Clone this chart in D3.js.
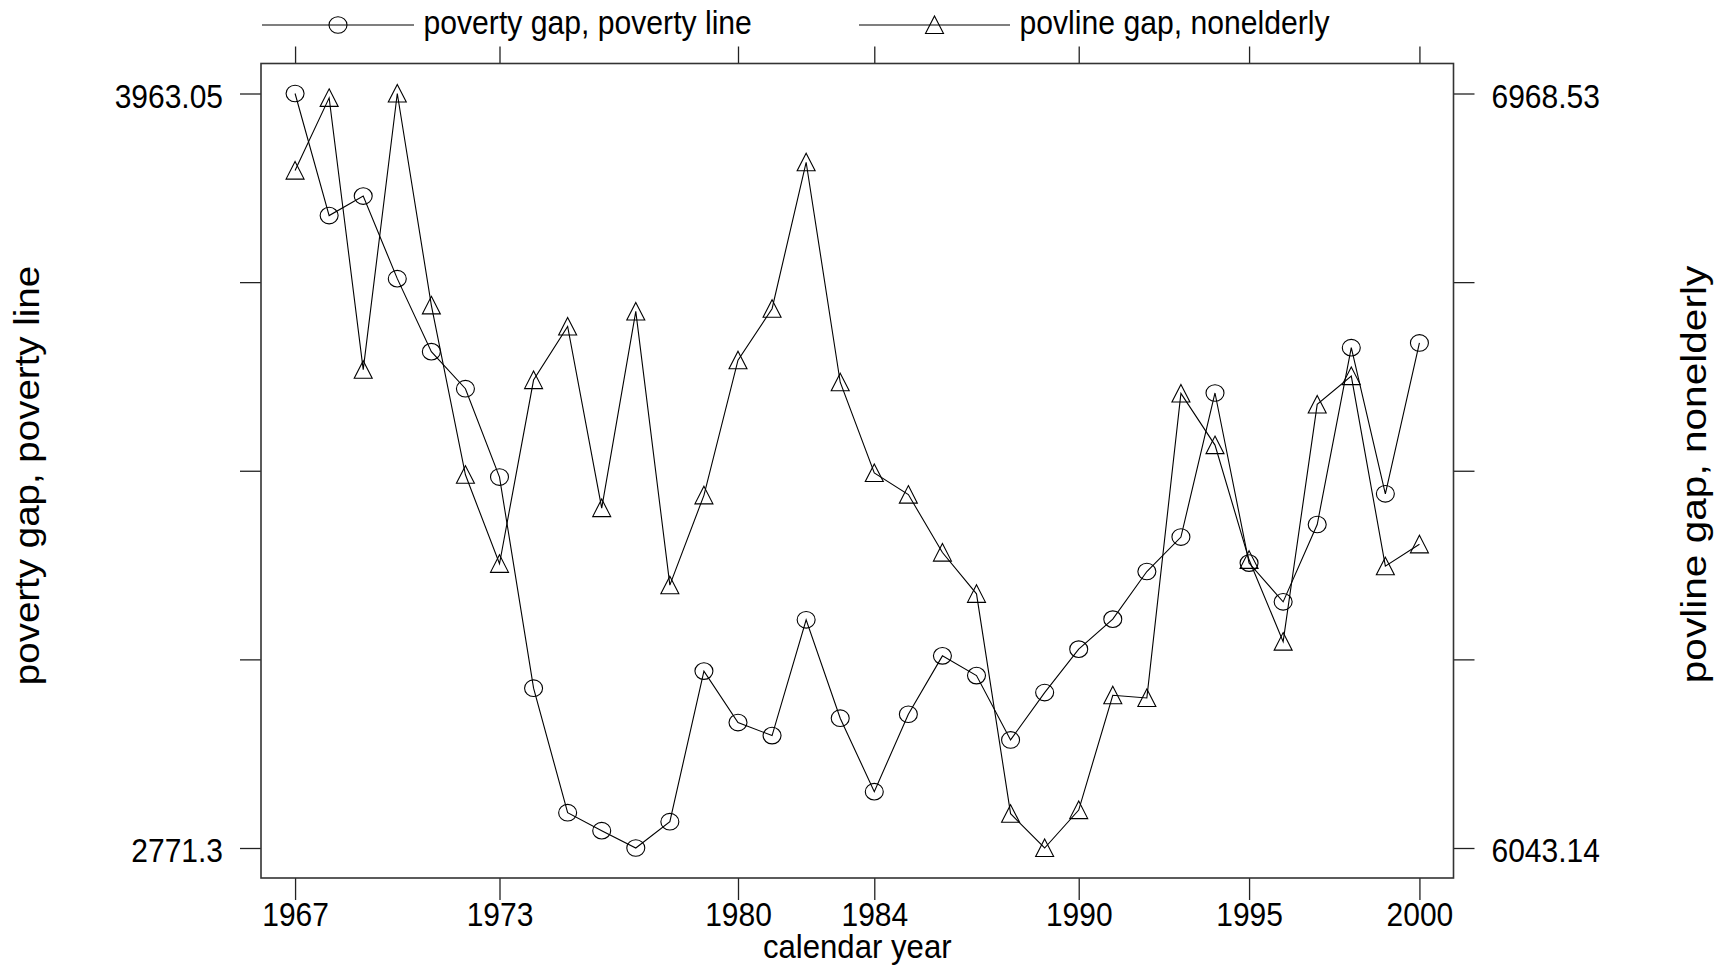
<!DOCTYPE html>
<html>
<head>
<meta charset="utf-8">
<script src="https://cdn.jsdelivr.net/npm/d3@7/dist/d3.min.js"></script>
<style>
  body { margin: 0; background: #fff; }
  svg { display: block; }
  text { font-family: "Liberation Sans", Arial, Helvetica, sans-serif; fill: #000; }
</style>
</head>
<body>
<svg id="chart" width="1726" height="968"></svg>
<script>
// ---- data -------------------------------------------------------------
const years = [1967, 1968, 1969, 1970, 1971, 1972, 1973, 1974, 1975, 1976,
               1977, 1978, 1979, 1980, 1981, 1982, 1983, 1984, 1985, 1986,
               1987, 1988, 1989, 1990, 1991, 1992, 1993, 1994, 1995, 1996,
               1997, 1998, 1999, 2000];

// poverty gap, poverty line (left axis)
const povertyGap = [3963.05, 3770.2, 3801.0, 3670.6, 3555.3, 3496.8, 3357.2, 3023.7, 2827.1, 2798.7,
                    2771.3, 2812.9, 3050.7, 2969.4, 2948.8, 3131.7, 2976.3, 2860.3, 2982.6, 3074.8,
                    3043.6, 2942.0, 3016.8, 3085.4, 3132.8, 3208.0, 3262.4, 3490.0, 3221.3, 3160.1,
                    3282.3, 3561.6, 3330.8, 3569.0];

// povline gap, nonelderly (right axis)
const povlineGap = [6874.0, 6963.2, 6629.8, 6968.53, 6708.7, 6500.9, 6391.7, 6617.1, 6682.9, 6460.1,
                    6701.3, 6365.5, 6475.7, 6641.4, 6704.6, 6884.2, 6614.4, 6503.1, 6476.6, 6405.5,
                    6354.9, 6085.2, 6043.14, 6089.7, 6230.5, 6227.2, 6600.7, 6537.3, 6396.6, 6296.3,
                    6587.2, 6622.0, 6388.8, 6415.6];

const xTickYears = [1967, 1973, 1980, 1984, 1990, 1995, 2000];
const leftTickLabels = ["2771.3", "3963.05"];
const rightTickLabels = ["6043.14", "6968.53"];

const seriesNames = ["poverty gap, poverty line", "povline gap, nonelderly"];
const xTitle = "calendar year";

// ---- layout ------------------------------------------------------------
const frame = { left: 261, right: 1453.5, top: 63.5, bottom: 878 };
const innerPad = 30;            // gap between frame and extreme data
const FONT = 33.5;              // tick / legend text size
const SQUEEZE = 0.895;          // narrow glyph width of horizontal text

const svg = d3.select("#chart");

const x = d3.scaleLinear()
  .domain([years[0] - 1, years[years.length - 1] + 1])
  .range([frame.left, frame.right]);

const leftExtent = leftTickLabels.map(Number);
const rightExtent = rightTickLabels.map(Number);

const yL = d3.scaleLinear()
  .domain(leftExtent)
  .range([frame.bottom - innerPad, frame.top + innerPad]);
const yR = d3.scaleLinear()
  .domain(rightExtent)
  .range([frame.bottom - innerPad, frame.top + innerPad]);

// five evenly spaced ticks from min to max, labels only at the ends
const fiveTicks = ext => [0, 1, 2, 3, 4].map(i => ext[0] + i * (ext[1] - ext[0]) / 4);
const endLabel = (ext, labels) => v =>
  Math.abs(v - ext[0]) < 1e-9 ? labels[0] : (Math.abs(v - ext[1]) < 1e-9 ? labels[1] : "");

function styleAxis(g) {
  g.select(".domain").remove();
  g.selectAll(".tick line").attr("stroke", "#222").attr("stroke-width", 1.3);
  g.selectAll(".tick text").style("font-size", FONT + "px").attr("fill", "#000");
}

// ---- axes --------------------------------------------------------------
// left
svg.append("g")
  .attr("transform", `translate(${frame.left},0)`)
  .call(d3.axisLeft(yL).tickValues(fiveTicks(leftExtent)).tickSize(21)
        .tickFormat(endLabel(leftExtent, leftTickLabels)))
  .call(styleAxis)
  .call(g => g.selectAll(".tick text")
    .attr("x", null).attr("dy", null)
    .attr("text-anchor", "end")
    .attr("transform", `translate(-38,13.5) scale(${SQUEEZE},1)`));

// right
svg.append("g")
  .attr("transform", `translate(${frame.right},0)`)
  .call(d3.axisRight(yR).tickValues(fiveTicks(rightExtent)).tickSize(21)
        .tickFormat(endLabel(rightExtent, rightTickLabels)))
  .call(styleAxis)
  .call(g => g.selectAll(".tick text")
    .attr("x", null).attr("dy", null)
    .attr("text-anchor", "start")
    .attr("transform", `translate(38,13.5) scale(${SQUEEZE},1)`));

// bottom
svg.append("g")
  .attr("transform", `translate(0,${frame.bottom})`)
  .call(d3.axisBottom(x).tickValues(xTickYears).tickSize(22).tickFormat(d3.format("d")))
  .call(styleAxis)
  .call(g => g.selectAll(".tick text")
    .attr("y", null).attr("dy", null)
    .attr("text-anchor", "middle")
    .attr("transform", `translate(0,48) scale(${SQUEEZE},1)`));

// top (ticks only)
svg.append("g")
  .attr("transform", `translate(0,${frame.top})`)
  .call(d3.axisTop(x).tickValues(xTickYears).tickSize(17).tickFormat(""))
  .call(styleAxis);

// frame
svg.append("rect")
  .attr("x", frame.left).attr("y", frame.top)
  .attr("width", frame.right - frame.left)
  .attr("height", frame.bottom - frame.top)
  .attr("fill", "none").attr("stroke", "#333").attr("stroke-width", 1.6);

// ---- axis titles -------------------------------------------------------
svg.append("text")
  .attr("text-anchor", "middle")
  .attr("transform", `translate(${(frame.left + frame.right) / 2},958) scale(0.93,1)`)
  .style("font-size", FONT + "px")
  .text(xTitle);

const midY = 475.5;
svg.append("text")
  .attr("text-anchor", "middle")
  .attr("transform", `translate(39,${midY}) rotate(-90) scale(1.1,1)`)
  .style("font-size", "35px")
  .text(seriesNames[0]);

svg.append("text")
  .attr("text-anchor", "middle")
  .attr("transform", `translate(1706,${midY - 1}) rotate(-90) scale(1.16,1)`)
  .style("font-size", "35px")
  .text(seriesNames[1]);

// ---- markers -----------------------------------------------------------
const triangleType = {
  draw(ctx, size) {
    const w = Math.sqrt(size) / 2, h = Math.sqrt(size) / 2;
    ctx.moveTo(0, -h);
    ctx.lineTo(w, h * 0.95);
    ctx.lineTo(-w, h * 0.95);
    ctx.closePath();
  }
};
const triangleSym = d3.symbol().type(triangleType).size(18 * 18);

function drawCircleMarker(sel) {
  sel.append("ellipse").attr("rx", 9).attr("ry", 8.3)
    .attr("fill", "none").attr("stroke", "#000").attr("stroke-width", 1.1);
}
function drawTriangleMarker(sel) {
  sel.append("path").attr("d", triangleSym)
    .attr("fill", "none").attr("stroke", "#000").attr("stroke-width", 1.1);
}

// ---- series ------------------------------------------------------------
const rows = years.map((yr, i) => ({ yr, a: povertyGap[i], b: povlineGap[i] }));

const lineA = d3.line().x(d => x(d.yr)).y(d => yL(d.a));
const lineB = d3.line().x(d => x(d.yr)).y(d => yR(d.b));

svg.append("path").datum(rows).attr("d", lineA)
  .attr("fill", "none").attr("stroke", "#000").attr("stroke-width", 1.1);
svg.append("path").datum(rows).attr("d", lineB)
  .attr("fill", "none").attr("stroke", "#000").attr("stroke-width", 1.1);

svg.append("g").selectAll("g").data(rows).join("g")
  .attr("transform", d => `translate(${x(d.yr)},${yL(d.a)})`)
  .call(drawCircleMarker);

svg.append("g").selectAll("g").data(rows).join("g")
  .attr("transform", d => `translate(${x(d.yr)},${yR(d.b)})`)
  .call(drawTriangleMarker);

// ---- legend ------------------------------------------------------------
const legendItems = [
  { name: seriesNames[0], x0: 262, x1: 414, marker: drawCircleMarker },
  { name: seriesNames[1], x0: 859, x1: 1010, marker: drawTriangleMarker }
];
const legendY = 25;
const lg = svg.append("g").selectAll("g").data(legendItems).join("g");
lg.append("line")
  .attr("x1", d => d.x0).attr("x2", d => d.x1)
  .attr("y1", legendY).attr("y2", legendY)
  .attr("stroke", "#000").attr("stroke-width", 1.1);
lg.append("g")
  .attr("transform", d => `translate(${(d.x0 + d.x1) / 2},${legendY})`)
  .each(function (d) { d.marker(d3.select(this)); });
lg.append("text")
  .attr("transform", d => `translate(${d.x1 + 9.5},34) scale(0.9,1)`)
  .style("font-size", FONT + "px")
  .text(d => d.name);
</script>
</body>
</html>
